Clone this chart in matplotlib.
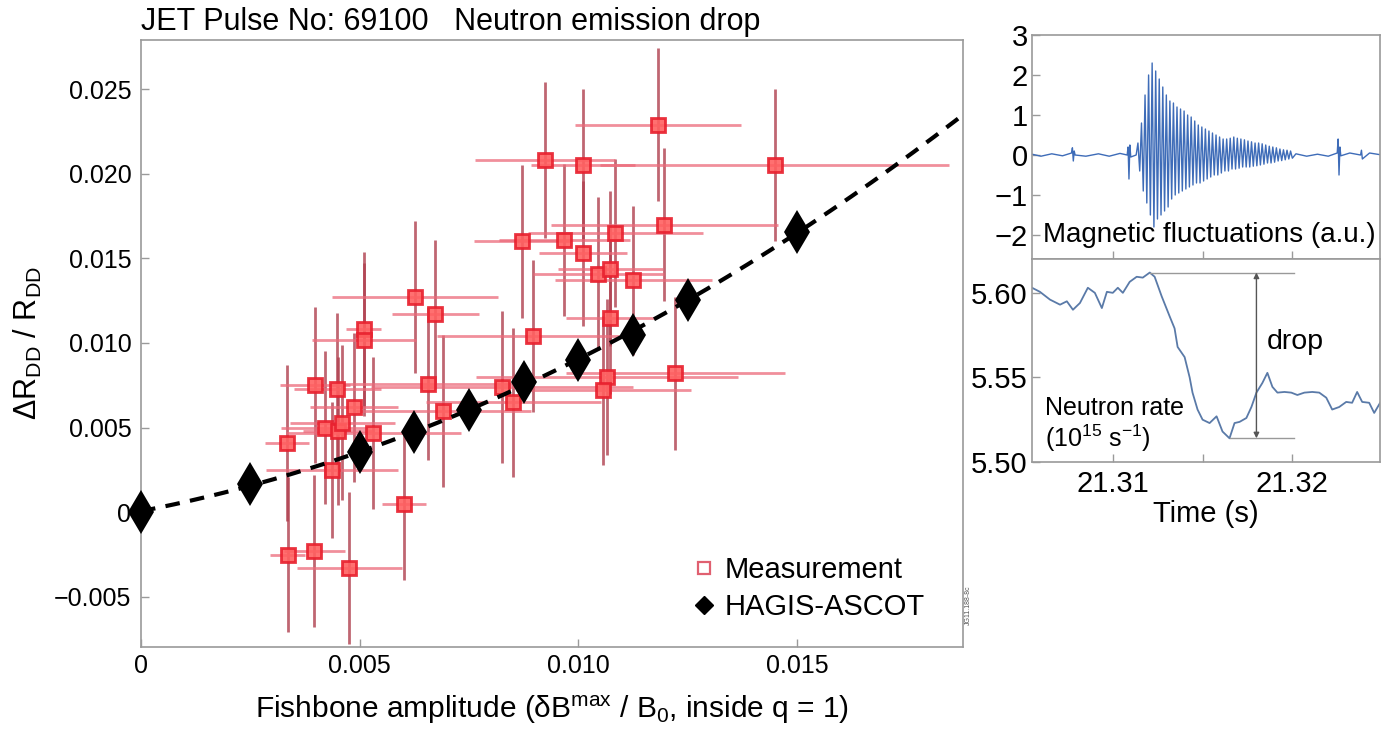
import numpy as np
import matplotlib
matplotlib.use("Agg")
import matplotlib.pyplot as plt
from matplotlib.lines import Line2D

plt.rcParams['font.family'] = ['Liberation Sans', 'DejaVu Sans']
plt.rcParams['mathtext.default'] = 'regular'
plt.rcParams['axes.unicode_minus'] = True

# ---- main panel data ----
hagis_x = [0.0, 0.0025, 0.0050, 0.00625, 0.0075, 0.00875, 0.0100, 0.01125, 0.0125, 0.0150]
hagis_y = [0.0, 0.00166, 0.00355, 0.00473, 0.00604, 0.0077, 0.0090, 0.01047, 0.01254, 0.01657]

meas_x = [0.01183, 0.00924, 0.01011, 0.01449, 0.01197, 0.01085, 0.00872, 0.00968, 0.01011,
          0.01046, 0.01073, 0.01126, 0.01073, 0.00897, 0.01066, 0.01057, 0.01222, 0.00826,
          0.00851, 0.00627, 0.00673, 0.00510, 0.00510, 0.00657, 0.00398, 0.00449, 0.00487,
          0.00691, 0.00531, 0.00334, 0.00437, 0.00602, 0.00336, 0.00396, 0.00476, 0.00420,
          0.00450, 0.00460]
meas_y = [0.0229, 0.0208, 0.0205, 0.0205, 0.0170, 0.0165, 0.0160, 0.0161, 0.0153,
          0.0141, 0.0144, 0.0137, 0.0115, 0.0104, 0.0080, 0.0072, 0.0082, 0.0074,
          0.0065, 0.0127, 0.0117, 0.0108, 0.0102, 0.0076, 0.0075, 0.0073, 0.0062,
          0.0060, 0.0047, 0.0041, 0.0025, 0.0005, -0.0025, -0.0023, -0.0033, 0.0050,
          0.0048, 0.0053]
meas_xerr = [0.0019, 0.0016, 0.0012, 0.0040, 0.0026, 0.0020, 0.0011, 0.0015, 0.0010,
             0.0015, 0.0012, 0.0018, 0.0010, 0.0022, 0.0030, 0.0020, 0.0025, 0.0030,
             0.0020, 0.0019, 0.0010, 0.0004, 0.0012, 0.0020, 0.0008, 0.0010, 0.0010,
             0.0020, 0.0020, 0.0005, 0.0015, 0.0005, 0.0004, 0.0007, 0.0012, 0.0010,
             0.0008, 0.0012]
meas_yerr = [0.0045, 0.0046, 0.0045, 0.0045, 0.0045, 0.0044, 0.0045, 0.0045, 0.0043,
             0.0045, 0.0046, 0.0044, 0.0045, 0.0045, 0.0046, 0.0044, 0.0045, 0.0045,
             0.0044, 0.0045, 0.0044, 0.0046, 0.0045, 0.0045, 0.0046, 0.0045, 0.0044,
             0.0045, 0.0045, 0.0046, 0.0040, 0.0045, 0.0046, 0.0045, 0.0045, 0.0045,
             0.0044, 0.0046]

# ---- magnetic fluctuations (a.u.) ----
mag_pre_t = [21.3055, 21.3060, 21.3066, 21.3072, 21.3077, 21.30775, 21.3078, 21.30785, 21.3079,
             21.3085, 21.3092, 21.3098, 21.3104, 21.3108, 21.31085, 21.3109, 21.31095, 21.3110,
             21.3113]
mag_pre_v = [0.02, -0.03, 0.03, -0.02, 0.05, 0.18, -0.15, 0.1, 0.0,
             -0.03, 0.03, -0.03, 0.04, 0.0, 0.2, -0.6, 0.25, -0.05, 0.0]
# successive maxima / minima of the fishbone burst
burst_v = [0.3, -0.4, 0.8, -0.9, 1.5, -1.2, 2.0, -1.5, 2.3, -1.8, 2.1, -1.6, 1.9, -1.5,
           1.7, -1.4, 1.5, -1.3, 1.35, -1.1, 1.3, -1.0, 1.2, -0.95, 1.15, -0.9, 1.1, -0.85,
           1.0, -0.8, 0.95, -0.75, 0.85, -0.7, 0.75, -0.7, 0.7, -0.65, 0.65, -0.6, 0.6, -0.55,
           0.55, -0.5, 0.5, -0.5, 0.45, -0.45, 0.4, -0.4, 0.4, -0.4, 0.42, -0.35, 0.45, -0.35,
           0.42, -0.33, 0.4, -0.3, 0.38, -0.3, 0.35, -0.3, 0.33, -0.28, 0.3, -0.27, 0.3, -0.25,
           0.28, -0.23, 0.25, -0.2, 0.22, -0.2, 0.2, -0.18, 0.18, -0.15, 0.15, -0.14, 0.13, -0.12,
           0.12, -0.1, 0.1, -0.08]
burst_start, burst_end = 21.3114, 21.3200
mag_post_t = [21.3202, 21.3208, 21.3214, 21.3220, 21.3225, 21.32255, 21.3226, 21.32265, 21.3227,
              21.3232, 21.3238, 21.32385, 21.3239, 21.3243, 21.3250]
mag_post_v = [0.03, -0.03, 0.02, -0.03, 0.05, 0.4, -0.5, 0.2, -0.02,
              0.05, 0.0, 0.12, -0.1, 0.05, 0.0]

# ---- neutron rate (1e15 /s) ----
neut_t = [21.30550, 21.30594, 21.30650, 21.30706, 21.30744, 21.30778, 21.30817, 21.30861,
          21.30900, 21.30939, 21.30967, 21.31000, 21.31028, 21.31056, 21.31094, 21.31133,
          21.31167, 21.31206, 21.31233, 21.31272, 21.31317, 21.31344, 21.31361, 21.31400,
          21.31428, 21.31444, 21.31472, 21.31500, 21.31539, 21.31578, 21.31611, 21.31650,
          21.31678, 21.31706, 21.31744, 21.31772, 21.31800, 21.31833, 21.31861, 21.31889,
          21.31917, 21.31956, 21.31994, 21.32028, 21.32067, 21.32111, 21.32150, 21.32189,
          21.32222, 21.32261, 21.32300, 21.32333, 21.32361, 21.32389, 21.32428, 21.32456,
          21.32489]
neut_v = [5.603, 5.6006, 5.596, 5.593, 5.595, 5.590, 5.594, 5.603,
          5.600, 5.591, 5.6006, 5.600, 5.603, 5.600, 5.6065, 5.6095,
          5.609, 5.612, 5.6095, 5.598, 5.586, 5.579, 5.568, 5.562,
          5.550, 5.541, 5.531, 5.525, 5.523, 5.527, 5.518, 5.514,
          5.523, 5.5237, 5.526, 5.5325, 5.541, 5.5467, 5.5527, 5.5444,
          5.541, 5.5414, 5.541, 5.5396, 5.541, 5.5414, 5.541, 5.538,
          5.531, 5.5325, 5.5355, 5.535, 5.5414, 5.5355, 5.535, 5.529,
          5.535]

spine_c = '#9a9a9a'


def style(ax, fs):
    for s in ax.spines.values():
        s.set_color(spine_c)
        s.set_linewidth(1.2)
    ax.tick_params(direction='in', length=6, width=1, color=spine_c,
                   labelsize=fs, labelcolor='black')


fig = plt.figure(figsize=(13.81, 7.29), dpi=100)

# ---------------- main panel ----------------
ax = fig.add_axes([0.1021, 0.1125, 0.5952, 0.8326])
style(ax, 18)
ax.errorbar(meas_x, meas_y, yerr=meas_yerr, fmt='none', ecolor='#b0404f',
            elinewidth=2, alpha=0.8, capsize=0, zorder=2)
ax.errorbar(meas_x, meas_y, xerr=meas_xerr, fmt='none', ecolor='#ec6a7a',
            elinewidth=2, alpha=0.75, capsize=0, zorder=2)
ax.plot(meas_x, meas_y, 's', ms=10, mfc='#ff6060', mec='#e8202e', mew=2,
        alpha=0.9, zorder=3)

coef = np.polyfit(hagis_x, hagis_y, 2)
xx = np.linspace(0, 0.0188, 200)
ax.plot(xx, np.polyval(coef, xx), color='black', lw=3, dashes=(3.5, 2.5), zorder=4)
ax.plot(hagis_x, hagis_y, 'd', color='black', ms=22, mew=0, zorder=5, clip_on=False)

ax.set_xlim(0, 0.0188)
ax.set_ylim(-0.00796, 0.0279)
ax.set_xticks([0, 0.005, 0.010, 0.015], ['0', '0.005', '0.010', '0.015'])
ax.set_yticks([-0.005, 0, 0.005, 0.010, 0.015, 0.020, 0.025],
              ['\u22120.005', '0', '0.005', '0.010', '0.015', '0.020', '0.025'])
ax.tick_params(axis='x', pad=5)
ax.tick_params(axis='y', pad=7)
ax.set_xlabel('Fishbone amplitude (\u03b4B$^{max}$ / B$_{0}$, inside q = 1)', fontsize=21.5)
ax.xaxis.set_label_coords(0.5, -0.076)
ax.set_ylabel('\u0394R$_{DD}$ / R$_{DD}$', fontsize=22)
ax.yaxis.set_label_coords(-0.118, 0.5)

handles = [Line2D([], [], ls='none', marker='s', ms=9, mfc='white', mec='#e06070', mew=1.6),
           Line2D([], [], ls='none', marker='D', ms=9, color='black')]
ax.legend(handles, ['Measurement', 'HAGIS-ASCOT'], loc='lower right', frameon=False,
          fontsize=21, handlelength=0.8, handletextpad=0.3, labelspacing=0.3,
          bbox_to_anchor=(0.985, 0.0))

fig.text(0.102, 0.97, 'JET Pulse No: 69100   Neutron emission drop', fontsize=22,
         va='center', ha='left')
fig.text(0.7015, 0.17, 'JG11.188-8c', fontsize=5, rotation=90, color='#555555',
         ha='center', va='center')

# ---------------- magnetic fluctuations ----------------
mag_t = np.concatenate([mag_pre_t, np.linspace(burst_start, burst_end, len(burst_v)), mag_post_t])
mag_v = np.concatenate([mag_pre_v, burst_v, mag_post_v])

ax1 = fig.add_axes([0.7473, 0.6447, 0.2522, 0.3073])
style(ax1, 21)
ax1.plot(mag_t, mag_v, color='#3e6cb8', lw=1)
ax1.set_xlim(21.3055, 21.3249)
ax1.set_ylim(-2.6, 3)
ax1.set_yticks([-2, -1, 0, 1, 2, 3], ['\u22122', '\u22121', '0', '1', '2', '3'])
ax1.set_xticks([21.31, 21.315, 21.32], ['', '', ''])
ax1.tick_params(axis='y', pad=3)
ax1.text(21.30611, -2.0, 'Magnetic fluctuations (a.u.)', fontsize=20, va='center', ha='left')

# ---------------- neutron rate ----------------
ax2 = fig.add_axes([0.7473, 0.3663, 0.2522, 0.2784])
style(ax2, 21)
ax2.plot(neut_t, neut_v, color='#5a7aa8', lw=1.3)
ax2.set_xlim(21.3055, 21.3249)
ax2.set_ylim(5.50, 5.62)
ax2.set_yticks([5.50, 5.55, 5.60], ['5.50', '5.55', '5.60'])
ax2.set_xticks([21.31, 21.315, 21.32], ['21.31', '', '21.32'])
ax2.tick_params(axis='y', pad=3)
ax2.tick_params(axis='x', pad=6)
ax2.set_xlabel('Time (s)', fontsize=21, labelpad=1)

i_max = int(np.argmax(neut_v))
i_min = int(np.argmin(neut_v))
t_end = 21.3201
t_arrow = 21.3180
ax2.plot([neut_t[i_max], t_end], [neut_v[i_max]] * 2, color='#999999', lw=1)
ax2.plot([neut_t[i_min], t_end], [neut_v[i_min]] * 2, color='#999999', lw=1)
ax2.annotate('', xy=(t_arrow, neut_v[i_max]), xytext=(t_arrow, neut_v[i_min]),
             arrowprops=dict(arrowstyle='<|-|>', color='#555555', lw=1, mutation_scale=8,
                             shrinkA=0, shrinkB=0))
ax2.text(21.3186, 5.571, 'drop', fontsize=20.5, va='center', ha='left')
ax2.text(21.3062, 5.532, 'Neutron rate', fontsize=18, va='center', ha='left')
ax2.text(21.3062, 5.514, '(10$^{15}$ s$^{\u22121}$)', fontsize=18, va='center', ha='left')

fig.savefig('out.png', dpi=100)
